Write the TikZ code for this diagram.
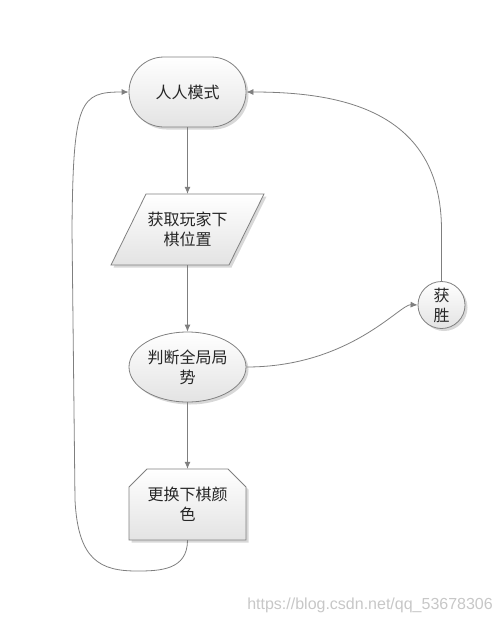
\documentclass[tikz,border=0pt]{standalone}
\usepackage{fontspec}
\setmainfont{Noto Sans CJK SC}
\newfontfamily\wmfont{Liberation Sans}
\usetikzlibrary{shapes.geometric,shadows,arrows.meta}
\definecolor{lineg}{HTML}{7F7F7F}
\definecolor{edgeg}{HTML}{808080}
\tikzset{
  shapefill/.style={draw=edgeg, line width=0.8pt, top color=white, bottom color=black!11,
    drop shadow={shadow xshift=2.5pt, shadow yshift=-2.5pt, opacity=0.22, fill=black!70}},
  txt/.style={text=black!85, font=\fontsize{16}{20}\selectfont, align=center, inner sep=0pt},
  conn/.style={draw=lineg, line width=0.8pt, -{Latex[length=7pt,width=6pt]}},
  plainconn/.style={draw=lineg, line width=0.8pt},
}
\begin{document}
\begin{tikzpicture}[x=1pt,y=-1pt]
\useasboundingbox (0,0) rectangle (502,624);
% terminal
\node[shapefill, txt, rectangle, rounded corners=35pt, minimum width=117pt, minimum height=70pt] (t) at (187.5,92) {人人模式};
% parallelogram (input)
\path[shapefill] (111,265) -- (229,265) -- (264,194) -- (146,194) -- cycle;
\node[txt, rectangle, minimum width=118pt, minimum height=71pt] (p) at (187.5,229.5) {获取玩家下\\棋位置};
% ellipse (decision)
\node[shapefill, txt, ellipse, minimum width=117pt, minimum height=70pt] (e) at (187.5,367) {判断全局局\\势};
% circle
\node[shapefill, txt, circle, minimum size=47pt] (w) at (441.5,305) {获\\胜};
% card shape
\path[shapefill] (129,487) -- (147,469) -- (228,469) -- (246,487) -- (246,540) -- (129,540) -- cycle;
\node[txt, rectangle, minimum width=117pt, minimum height=71pt] (c) at (187.5,504.5) {更换下棋颜\\色};
% connectors
\draw[conn] (t.south) -- (p.north);
\draw[conn] (p.south) -- (e.north);
\draw[conn] (e.south) -- (c.north);
\draw[conn] (e.east) .. controls (350,367) and (400,304) .. (w.west);
\draw[conn] (w.north) -- (441.5,230) .. controls (441.5,110) and (340,92) .. (t.east);
\draw[conn] (c.south) .. controls (187.5,570) and (160,571) .. (137,571)
  .. controls (100,571) and (78,560) .. (75,500) -- (72,230)
  .. controls (73,100) and (80,92) .. (t.west);
% watermark
\node[text=black!22, font=\wmfont\fontsize{16}{18}\selectfont, anchor=east, inner sep=0pt] (wm) at (493,605) {https://blog.csdn.net/qq\_53678306};
\end{tikzpicture}
\end{document}
